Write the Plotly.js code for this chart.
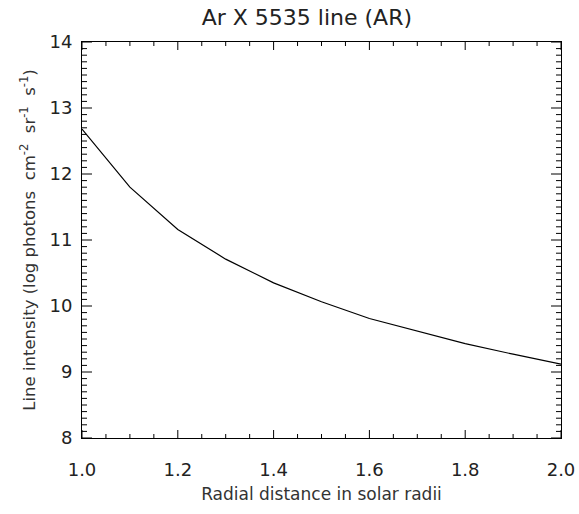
<!DOCTYPE html>
<html>
<head>
<meta charset="utf-8">
<script src="https://cdn.plot.ly/plotly-3.0.1.min.js"></script>
<style>html,body{margin:0;padding:0;background:#fff;}#chart{width:579px;height:514px;}</style>
</head>
<body>
<div id="chart"></div>
<script>
// Data
const radius = [1.0, 1.1, 1.2, 1.3, 1.4, 1.5, 1.6, 1.7, 1.8, 1.9, 2.0];
const intensity = [12.68, 11.80, 11.16, 10.71, 10.35, 10.065, 9.81, 9.62, 9.43, 9.27, 9.12];
const xTickVals = [1.0, 1.2, 1.4, 1.6, 1.8, 2.0];
const yTickVals = [8, 9, 10, 11, 12, 13, 14];
const xMinorStep = 0.05;
const yMinorStep = 0.1;

const W = 579, H = 514;
const M = {l: 82, r: 18, t: 42, b: 76};
const plotW = W - M.l - M.r, plotH = H - M.t - M.b;
const fontFam = '"DejaVu Sans", "Liberation Sans", Arial, sans-serif';

const xMin = xTickVals[0], xMax = xTickVals[xTickVals.length - 1];
const yMin = yTickVals[0], yMax = yTickVals[yTickVals.length - 1];
const dyPerPx = (yMax - yMin) / plotH, dxPerPx = (xMax - xMin) / plotW;

// IDL-style tick marks on all four sides, drawn as a line trace through the axes' scales
const tx = [], ty = [];
function seg(x0, y0, x1, y1) { tx.push(x0, x1, null); ty.push(y0, y1, null); }
for (let i = 0; xMin + i * xMinorStep <= xMax + 1e-9; i++) {
  const v = +(xMin + i * xMinorStep).toFixed(4);
  const len = (xTickVals.some(t => Math.abs(t - v) < 1e-6) ? 8 : 4) * dyPerPx;
  seg(v, yMin, v, yMin + len);
  seg(v, yMax, v, yMax - len);
}
for (let i = 0; yMin + i * yMinorStep <= yMax + 1e-9; i++) {
  const v = +(yMin + i * yMinorStep).toFixed(4);
  const len = (yTickVals.some(t => Math.abs(t - v) < 1e-6) ? 10 : 5) * dxPerPx;
  seg(xMin, v, xMin + len, v);
  seg(xMax, v, xMax - len, v);
}

const tickTrace = {
  x: tx, y: ty, type: 'scatter', mode: 'lines', connectgaps: false,
  line: {color: '#000', width: 1}, hoverinfo: 'skip', showlegend: false
};
const trace = {
  x: radius, y: intensity, type: 'scatter', mode: 'lines',
  line: {color: '#000', width: 1.2}, hoverinfo: 'skip', showlegend: false
};
const layout = {
  width: W, height: H, margin: M,
  paper_bgcolor: '#fff', plot_bgcolor: '#fff',
  showlegend: false,
  title: {text: 'Ar X 5535 line (AR)', x: 0.53, xanchor: 'center', y: 0.966, yanchor: 'middle',
          font: {family: fontFam, size: 22, color: '#222'}},
  xaxis: {
    range: [xMin, xMax], tickmode: 'array', tickvals: xTickVals, ticktext: xTickVals.map(v => v.toFixed(1)),
    ticks: '', showline: true, linecolor: '#000', linewidth: 1, mirror: true,
    showgrid: false, zeroline: false, automargin: false,
    ticklabelstandoff: 15,
    tickfont: {family: fontFam, size: 18, color: '#222'},
    title: {text: 'Radial distance in solar radii', standoff: 9, font: {family: fontFam, size: 17, color: '#333'}}
  },
  yaxis: {
    range: [yMin, yMax], tickmode: 'array', tickvals: yTickVals, ticktext: yTickVals.map(String),
    ticks: '', showline: true, linecolor: '#000', linewidth: 1, mirror: true,
    showgrid: false, zeroline: false, automargin: false,
    ticklabelstandoff: 5,
    tickfont: {family: fontFam, size: 18, color: '#222'},
    title: {text: 'Line intensity (log photons  cm<sup>-2</sup>  sr<sup>-1</sup>  s<sup>-1</sup>)', standoff: 9,
            font: {family: fontFam, size: 16.5, color: '#333'}}
  }
};
Plotly.newPlot('chart', [tickTrace, trace], layout, {staticPlot: true, displayModeBar: false});
</script>
</body>
</html>
